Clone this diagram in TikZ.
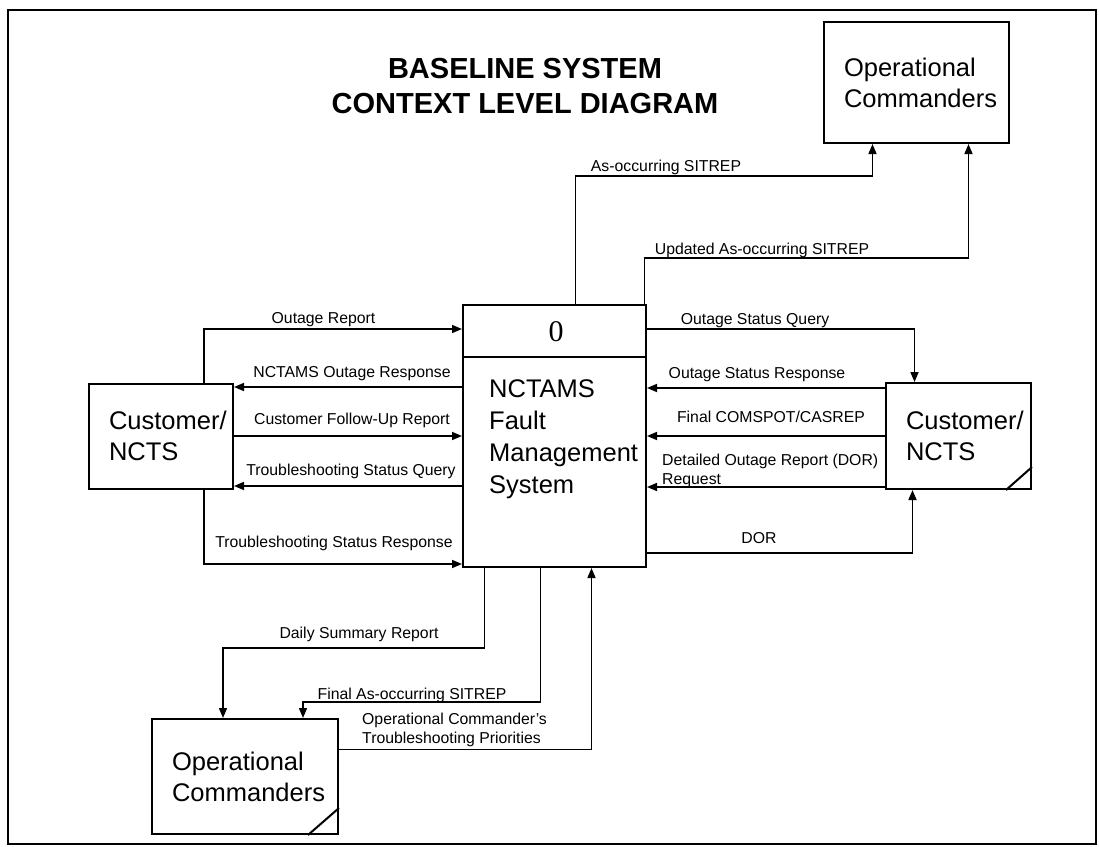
\documentclass[tikz,border=0pt]{standalone}
\usepackage{fontspec}
\setmainfont{Liberation Sans}
\newfontfamily\numfont{Liberation Serif}
\usetikzlibrary{arrows.meta}

\begin{document}
\begin{tikzpicture}[x=1pt,y=-1pt]
  \useasboundingbox (0,0) rectangle (1099,846);

  % Rahmen
  \draw[line width=2pt] (8,10) rectangle (1096,844);

  \tikzstyle{box}=[draw, line width=2pt, inner xsep=20pt, inner ysep=0pt, align=left, font=\fontsize{25.5}{31}\selectfont]
  \tikzstyle{flow}=[line width=1.6pt, -{Triangle[length=10pt,width=8pt]}]
  \tikzstyle{lbl}=[inner sep=0pt, anchor=base, font=\fontsize{15.8}{18.5}\selectfont]

  % Titel
  \node[font=\fontsize{29}{35}\selectfont\bfseries, align=center] (title) at (525,86) {BASELINE SYSTEM\\CONTEXT LEVEL DIAGRAM};

  % Prozess
  \node[draw, line width=2pt, minimum width=183pt, minimum height=262pt, inner sep=0pt] (fms) at (554.5,436) {};
  \draw[line width=2pt] ([yshift=-53pt]fms.north west) -- ([yshift=-53pt]fms.north east);
  \node[font=\numfont\fontsize{30}{30}\selectfont] (num) at (556,332) {0};
  \node[anchor=north west, inner sep=0pt, align=left, font=\fontsize{25.5}{32}\selectfont] (fmstxt) at (489,379) {NCTAMS\\Fault\\Management\\System};

  % Externe Einheiten
  \node[box, text width=104pt, minimum height=105pt] (lcust) at (161,436) {Customer/\\NCTS};
  \node[box, text width=105pt, minimum height=106pt] (rcust) at (958.5,436) {Customer/\\NCTS};
  \node[box, text width=145pt, minimum height=121pt] (topcmd) at (916.5,82.5) {Operational\\Commanders};
  \node[box, text width=146pt, minimum height=115pt] (botcmd) at (245,776.5) {Operational\\Commanders};
  \draw[line width=2pt] ([xshift=-26pt]rcust.south east) -- ([yshift=23pt]rcust.south east);
  \draw[line width=2pt] ([xshift=-31pt]botcmd.south east) -- ([yshift=27pt]botcmd.south east);

  % links
  \draw[flow] ([xshift=43pt]lcust.north) |- ([yshift=107pt]fms.west);
  \draw[flow] ([yshift=49pt]fms.west) -- ([yshift=49pt]lcust.east);
  \draw[flow] (lcust.east) -- (fms.west);
  \draw[flow] ([yshift=-50pt]fms.west) -- ([yshift=-50pt]lcust.east);
  \draw[flow] ([xshift=43pt]lcust.south) |- ([yshift=-128pt]fms.west);

  % rechts
  \draw[flow] ([yshift=107pt]fms.east) -| ([xshift=-44pt]rcust.north);
  \draw[flow] ([yshift=48pt]rcust.west) -- ([yshift=48pt]fms.east);
  \draw[flow] (rcust.west) -- (fms.east);
  \draw[flow] ([yshift=-51pt]rcust.west) -- ([yshift=-51pt]fms.east);
  \draw[flow] ([yshift=-117pt]fms.east) -| ([xshift=-46pt]rcust.south);

  % oben
  \draw[flow] ([xshift=21pt]fms.north) -- ++(0,-128) -| ([xshift=-44pt]topcmd.south);
  \draw[flow] ([xshift=90pt]fms.north) -- ++(0,-46) -| ([xshift=52pt]topcmd.south);

  % unten
  \draw[flow] ([xshift=-70pt]fms.south) -- ++(0,80) -| ([xshift=-22pt]botcmd.north);
  \draw[flow] ([xshift=-14pt]fms.south) -- ++(0,134) -| ([xshift=58pt]botcmd.north);
  \draw[flow] ([yshift=27pt]botcmd.east) -| ([xshift=37pt]fms.south);

  % Beschriftungen
  \node[lbl] (l1) at (323.5,323) {Outage Report};
  \node[lbl] (l2) at (352,377) {NCTAMS Outage Response};
  \node[lbl] (l3) at (352,424) {Customer Follow-Up Report};
  \node[lbl] (l4) at (351,475) {Troubleshooting Status Query};
  \node[lbl] (l5) at (334,547) {Troubleshooting Status Response};
  \node[lbl] (r1) at (755,324) {Outage Status Query};
  \node[lbl] (r2) at (757,378) {Outage Status Response};
  \node[lbl] (r3) at (771,422) {Final COMSPOT/CASREP};
  \node[lbl, anchor=base west, align=left] (r4) at (662,484) {Detailed Outage Report (DOR)\\Request};
  \node[lbl] (r5) at (759,543) {DOR};
  \node[lbl] (t1) at (666,171) {As-occurring SITREP};
  \node[lbl] (t2) at (762,254) {Updated As-occurring SITREP};
  \node[lbl] (b1) at (359,638) {Daily Summary Report};
  \node[lbl] (b2) at (412,699) {Final As-occurring SITREP};
  \node[lbl, anchor=base west, align=left] (b3) at (362,743) {Operational Commander's\\Troubleshooting Priorities};
\end{tikzpicture}
\end{document}
